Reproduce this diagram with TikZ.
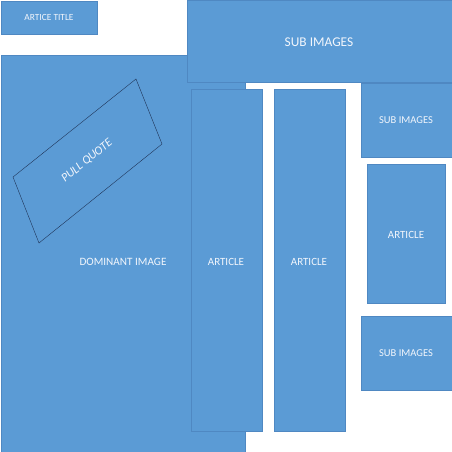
\documentclass[tikz,border=0pt]{standalone}
\usepackage{fontspec}
\setmainfont{Carlito}
\usepackage{tikz}
\usetikzlibrary{calc}
\definecolor{boxblue}{HTML}{5B9BD5}
\definecolor{boxline}{HTML}{4F88C2}
\definecolor{quoteline}{HTML}{1F3458}
\definecolor{boxtext}{HTML}{F2F6FC}
\begin{document}
\begin{tikzpicture}[x=1pt,y=-1pt]
	\useasboundingbox (0,0) rectangle (452,452);

	%Dominant image
	\draw[thin, draw=boxline, fill=boxblue] (1,55) rectangle (245,452);
	\node[text=boxtext, font=\fontsize{11.2}{13}\selectfont] (dominant) at (123,262) {DOMINANT IMAGE};

	%Title
	\draw[thin, draw=boxline, fill=boxblue] (1,1) rectangle (97,34);
	\node[text=boxtext, font=\fontsize{9.4}{11}\selectfont] (title) at (49,17) {ARTICE TITLE};

	%Sub images, top
	\draw[thin, draw=boxline, fill=boxblue] (187,0) rectangle (452,82);
	\node[text=boxtext, font=\fontsize{13.4}{15}\selectfont] (subtop) at (319,42) {SUB IMAGES};

	%Pull quote
	\draw[thin, draw=quoteline] (13,177) -- (136,79) -- (162,144) -- (39,243) -- cycle;
	\node[text=boxtext, font=\itshape\fontsize{12}{14}\selectfont, rotate=39] (quote) at (87,161) {PULL QUOTE};

	%Articles
	\draw[thin, draw=boxline, fill=boxblue] (191,89) rectangle (262,431);
	\node[text=boxtext, font=\fontsize{11}{13}\selectfont] (articleA) at (226,262) {ARTICLE};
	\draw[thin, draw=boxline, fill=boxblue] (274,89) rectangle (345,431);
	\node[text=boxtext, font=\fontsize{11}{13}\selectfont] (articleB) at (309,262) {ARTICLE};

	%Right column
	\draw[thin, draw=boxline, fill=boxblue] (361,83) rectangle (452,157);
	\node[text=boxtext, font=\fontsize{10.5}{12}\selectfont] (subright) at (406,120) {SUB IMAGES};
	\draw[thin, draw=boxline, fill=boxblue] (367,164) rectangle (445,303);
	\node[text=boxtext, font=\fontsize{11}{13}\selectfont] (articleC) at (406,235) {ARTICLE};
	\draw[thin, draw=boxline, fill=boxblue] (361,316) rectangle (452,390);
	\node[text=boxtext, font=\fontsize{10.5}{12}\selectfont] (subbottom) at (406,353) {SUB IMAGES};

\end{tikzpicture}
\end{document}
